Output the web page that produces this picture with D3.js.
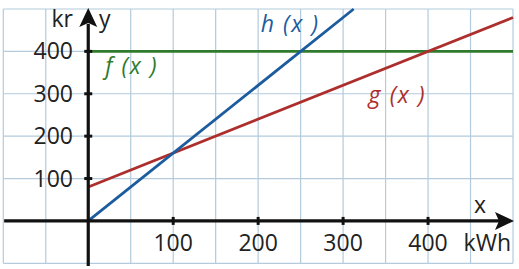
<!DOCTYPE html>
<html>
<head>
<meta charset="utf-8">
<script src="https://cdn.jsdelivr.net/npm/d3@7"></script>
<style>
  body { margin: 0; background: #fff; }
  svg text { font-family: "Open Sans", sans-serif; }
</style>
</head>
<body>
<div id="chart"></div>
<script>
// data
const xTicks = [100, 200, 300, 400];
const yTicks = [100, 200, 300, 400];
const fLine = [[0, 400], [500, 400]];
const gLine = [[0, 80], [500, 480]];
const hLine = [[0, 0], [312.5, 500]];
const funcLabels = [
    { name: "f", x: 20, y: 346, color: "#2f7a2c" },
    { name: "h", x: 203, y: 446, color: "#1c5c9e" },
    { name: "g", x: 330, y: 278, color: "#ad2f2d" }
];

const width = 519;
const height = 269;

const svg = d3.select("#chart")
    .append("svg")
    .attr("width", width)
    .attr("height", height);

const x = d3.scaleLinear().domain([-100, 500]).range([3.3, 513]);
const y = d3.scaleLinear().domain([-100, 500]).range([263.3, 9]);

// grid: every 50 on x, every 100 on y
const grid = svg.append("g").attr("stroke", "#b3cbdc").attr("stroke-width", 1.2);
grid.selectAll("line.v")
    .data(d3.range(-100, 501, 50))
    .enter().append("line")
    .attr("x1", d => x(d)).attr("x2", d => x(d))
    .attr("y1", y(500)).attr("y2", y(-100));
grid.selectAll("line.h")
    .data(d3.range(-100, 501, 100))
    .enter().append("line")
    .attr("x1", x(-100)).attr("x2", x(500))
    .attr("y1", d => y(d)).attr("y2", d => y(d));

// function lines
const line = d3.line().x(d => x(d[0])).y(d => y(d[1]));
[[fLine, "#2f7a2c"], [gLine, "#ad2f2d"], [hLine, "#1c5c9e"]].forEach(([data, color]) => {
    svg.append("path")
        .datum(data)
        .attr("d", line)
        .attr("fill", "none")
        .attr("stroke", color)
        .attr("stroke-width", 2.8);
});

// axes
const axes = svg.append("g").attr("stroke", "#111").attr("stroke-width", 3.2);
axes.append("line")
    .attr("x1", x(-99)).attr("x2", 500)
    .attr("y1", y(0)).attr("y2", y(0));
axes.append("line")
    .attr("x1", x(0)).attr("x2", x(0))
    .attr("y1", 266).attr("y2", 24);

svg.append("path")
    .attr("d", `M${514},${y(0)} L${495},${y(0) - 9} L${499},${y(0)} L${495},${y(0) + 9} Z`)
    .attr("fill", "#111");
svg.append("path")
    .attr("d", `M${x(0)},${8} L${x(0) - 9},${27} L${x(0)},${23} L${x(0) + 9},${27} Z`)
    .attr("fill", "#111");

// tick marks
svg.selectAll("line.xt")
    .data(xTicks)
    .enter().append("line")
    .attr("x1", d => x(d)).attr("x2", d => x(d))
    .attr("y1", y(0) - 4).attr("y2", y(0) + 4)
    .attr("stroke", "#111").attr("stroke-width", 3);
svg.selectAll("line.yt")
    .data(yTicks)
    .enter().append("line")
    .attr("x1", x(0) - 4).attr("x2", x(0) + 4)
    .attr("y1", d => y(d)).attr("y2", d => y(d))
    .attr("stroke", "#111").attr("stroke-width", 3);

// tick labels
svg.selectAll("text.xl")
    .data(xTicks)
    .enter().append("text")
    .attr("x", d => x(d))
    .attr("y", 251)
    .attr("text-anchor", "middle")
    .attr("font-size", 23)
    .attr("fill", "#222")
    .text(d => d);
svg.selectAll("text.yl")
    .data(yTicks)
    .enter().append("text")
    .attr("x", 73)
    .attr("y", d => y(d) + 8)
    .attr("text-anchor", "end")
    .attr("font-size", 23)
    .attr("fill", "#222")
    .text(d => d);

// axis labels
const lab = (tx, ty, t, anchor) => svg.append("text")
    .attr("x", tx).attr("y", ty)
    .attr("text-anchor", anchor || "start")
    .attr("font-size", 23)
    .attr("fill", "#222")
    .text(t);
lab(73, 27, "kr", "end");
lab(99, 27, "y");
lab(474, 213, "x");
lab(511, 251, "kWh", "end");

// function labels
svg.selectAll("text.fn")
    .data(funcLabels)
    .enter().append("text")
    .attr("x", d => x(d.x))
    .attr("y", d => y(d.y))
    .attr("font-size", 23)
    .attr("font-style", "italic")
    .attr("letter-spacing", 1.6)
    .attr("fill", d => d.color)
    .text(d => d.name + " (x )");
</script>
</body>
</html>
